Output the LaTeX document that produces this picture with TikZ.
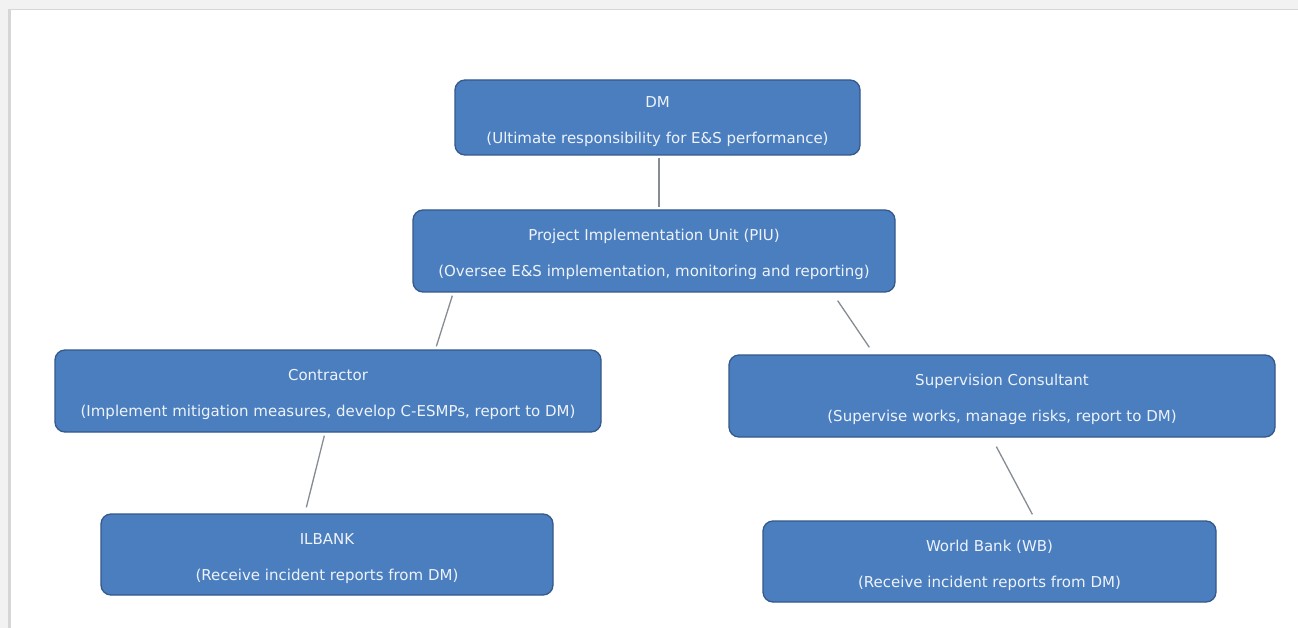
\documentclass[tikz,border=0pt]{standalone}
\usepackage{fontspec}
\setmainfont{DejaVu Sans}
\definecolor{boxfill}{HTML}{4A7EBF}
\definecolor{boxedge}{HTML}{34598A}
\definecolor{boxtext}{HTML}{EEF3FA}
\definecolor{linkcol}{HTML}{858C94}
\definecolor{framegray}{HTML}{F2F2F2}
\definecolor{frameline}{HTML}{D6D6D6}
\newcommand{\topstrut}{\rule{0pt}{19pt}}
\begin{document}
\begin{tikzpicture}[x=1pt,y=-1pt,
  orgbox/.style={draw=boxedge,line width=1.3pt,fill=boxfill,rounded corners=10pt,
    text=boxtext,align=center,inner sep=0pt,font=\fontsize{15}{36}\selectfont},
  link/.style={draw=linkcol,line width=1.3pt}]
\useasboundingbox (0,0) rectangle (1298,628);
\fill[white] (0,0) rectangle (1298,628);
% screenshot frame
\fill[framegray] (0,0) rectangle (1298,9);
\fill[framegray] (0,0) rectangle (11,628);
\draw[frameline,line width=1pt] (11,9.5) -- (1298,9.5);
\draw[frameline,line width=2.5pt] (9.5,9) -- (9.5,628);
% boxes
\node[orgbox,minimum width=405pt,minimum height=75pt] (dm) at (657.5,117.5)
  {\topstrut DM\\(Ultimate responsibility for E\&S performance)};
\node[orgbox,minimum width=482pt,minimum height=82pt] (piu) at (654,251)
  {\topstrut Project Implementation Unit (PIU)\\(Oversee E\&S implementation, monitoring and reporting)};
\node[orgbox,minimum width=546pt,minimum height=82pt] (con) at (328,391)
  {\topstrut Contractor\\(Implement mitigation measures, develop C-ESMPs, report to DM)};
\node[orgbox,minimum width=546pt,minimum height=82pt] (sup) at (1002,396)
  {\topstrut Supervision Consultant\\(Supervise works, manage risks, report to DM)};
\node[orgbox,minimum width=452pt,minimum height=81pt] (ilb) at (327,554.5)
  {\topstrut ILBANK\\(Receive incident reports from DM)};
\node[orgbox,minimum width=453pt,minimum height=81pt] (wb) at (989.5,561.5)
  {\topstrut World Bank (WB)\\(Receive incident reports from DM)};
% connectors
\draw[link] ([xshift=1.5pt,yshift=-2pt]dm.south) -- ([xshift=5pt,yshift=2pt]piu.north);
\draw[link] ([xshift=40pt,yshift=-3pt]piu.south west) -- ([xshift=382pt,yshift=3pt]con.north west);
\draw[link] ([xshift=-58pt,yshift=-8pt]piu.south east) -- ([xshift=141pt,yshift=7pt]sup.north west);
\draw[link] ([xshift=270pt,yshift=-3pt]con.south west) -- ([xshift=206pt,yshift=6pt]ilb.north west);
\draw[link] ([xshift=268pt,yshift=-9pt]sup.south west) -- ([xshift=270pt,yshift=6pt]wb.north west);
\end{tikzpicture}
\end{document}
